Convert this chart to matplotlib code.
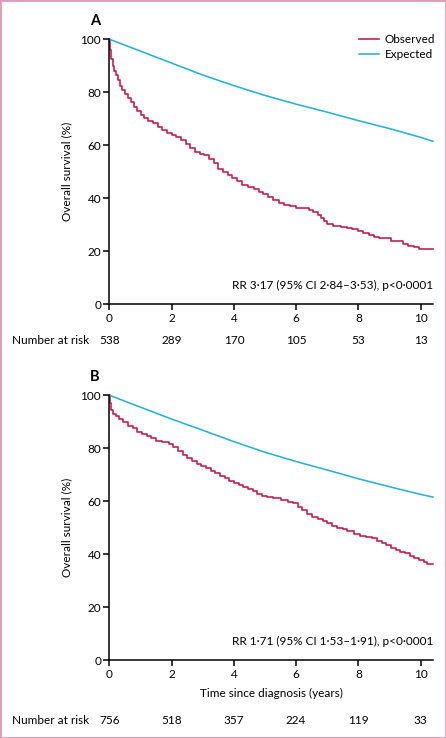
import matplotlib
matplotlib.use("Agg")
import matplotlib.pyplot as plt
from matplotlib.patches import Rectangle

plt.rcParams['font.family'] = ['Lato', 'DejaVu Sans']
plt.rcParams['font.size'] = 8.5

# Panel A - observed (Kaplan-Meier steps) and expected survival
obs_a_t = [0, 0.02, 0.04, 0.06, 0.1, 0.15, 0.2, 0.27, 0.33, 0.4, 0.5, 0.6, 0.7, 0.8, 0.9,
           1.0, 1.1, 1.25, 1.4, 1.55, 1.7, 1.85, 2.0, 2.15, 2.3, 2.45, 2.6, 2.75, 2.9,
           3.05, 3.2, 3.35, 3.5, 3.65, 3.8, 3.95, 4.1, 4.25, 4.45, 4.65, 4.8, 4.95, 5.1,
           5.25, 5.45, 5.6, 5.8, 6.0, 6.2, 6.4, 6.55, 6.7, 6.8, 6.9, 7.0, 7.2, 7.45, 7.65,
           7.8, 8.0, 8.15, 8.35, 8.5, 8.65, 9.05, 9.3, 9.45, 9.6, 9.8, 9.95, 10.4]
obs_a_s = [100, 96, 94, 92.5, 90, 88, 86.5, 84.5, 82.5, 81, 79.5, 78, 76.5, 74.5, 73,
           71.5, 70.2, 69.2, 68.3, 66.8, 65.8, 64.5, 63.8, 63, 62, 60.5, 58.8, 57.5, 56.8,
           56.3, 55, 53.2, 51, 49.8, 48.8, 47.8, 46.5, 45, 44.3, 43.5, 42.5, 41.5, 40.5,
           39.5, 38.2, 37.5, 37, 36.5, 36.2, 35.5, 34.8, 33.8, 32.5, 31.3, 30.3, 29.6, 29.3, 28.8,
           28.3, 27.8, 27, 26, 25.3, 25, 24, 23.7, 22.8, 22, 21.5, 20.7, 20.7]
exp_a_t = [0, 1, 2, 3, 4, 5, 6, 7, 8, 9, 10, 10.4]
exp_a_s = [100, 95.5, 91, 86.5, 82.5, 78.8, 75.5, 72.5, 69.3, 66.3, 63, 61.5]

# Panel B
obs_b_t = [0, 0.02, 0.05, 0.1, 0.2, 0.3, 0.45, 0.6, 0.75, 0.9, 1.05, 1.2, 1.35, 1.5, 1.7,
           1.9, 2.05, 2.2, 2.35, 2.5, 2.65, 2.8, 2.95, 3.1, 3.25, 3.4, 3.55, 3.7, 3.85, 4.0,
           4.15, 4.3, 4.45, 4.6, 4.75, 4.9, 5.05, 5.25, 5.5, 5.75, 5.9, 6.05, 6.2, 6.35, 6.5,
           6.7, 6.85, 7.0, 7.15, 7.3, 7.5, 7.65, 7.85, 8.05, 8.25, 8.45, 8.6, 8.75, 8.9, 9.05,
           9.2, 9.35, 9.5, 9.65, 9.8, 9.95, 10.1, 10.2, 10.4]
obs_b_s = [100, 97, 94.5, 93, 92, 91, 89.8, 88.5, 87.5, 86.3, 85.5, 84.8, 83.7, 82.9, 82.4,
           81.5, 80.5, 79, 77.6, 76.3, 75.2, 74.2, 73.4, 72.5, 71.5, 70.6, 69.7, 68.7, 67.8, 67,
           66, 65.3, 64.5, 63.8, 62.8, 62, 61.6, 61.2, 60.3, 59.8, 59.2, 58, 56.6, 55.3, 54.2,
           53.4, 52.7, 51.7, 50.7, 50, 49.5, 48.8, 47.8, 47, 46.4, 46, 45, 44.3, 43.5, 42.5,
           41.7, 41, 40.4, 39.5, 38.6, 37.8, 36.9, 36.2, 36.2]
exp_b_t = [0, 1, 2, 3, 4, 5, 6, 7, 8, 9, 10, 10.4]
exp_b_s = [100, 95.5, 91, 86.8, 82.5, 78.5, 75, 71.8, 68.5, 65.5, 62.6, 61.6]

ticks = [0, 2, 4, 6, 8, 10]
risk_a = [538, 289, 170, 105, 53, 13]
risk_b = [756, 518, 357, 224, 119, 33]
rr_a = "RR 3·17 (95% CI 2·84–3·53), p<0·0001"
rr_b = "RR 1·71 (95% CI 1·53–1·91), p<0·0001"

red = '#c4174c'
blue = '#25b3cf'

fig = plt.figure(figsize=(4.46, 7.38), dpi=100)
fig.patches.append(Rectangle((0, 0), 1, 1, transform=fig.transFigure, fill=False,
                             edgecolor='#de9cb8', lw=2.0))

ax_a = fig.add_axes([0.2455, 0.5877, 0.7253, 0.3591])
ax_b = fig.add_axes([0.2455, 0.1053, 0.7253, 0.3591])

panels = [(ax_a, obs_a_t, obs_a_s, exp_a_t, exp_a_s, rr_a, 'A'),
          (ax_b, obs_b_t, obs_b_s, exp_b_t, exp_b_s, rr_b, 'B')]

for ax, ot, os_, et, es, rr, letter in panels:
    ax.plot(ot, os_, drawstyle='steps-post', color=red, lw=1.15, label='Observed', clip_on=False)
    ax.plot(et, es, color=blue, lw=1.15, label='Expected', clip_on=False)
    ax.set_xlim(0, 10.4)
    ax.set_ylim(0, 100)
    ax.set_xticks(ticks)
    ax.set_yticks([0, 20, 40, 60, 80, 100])
    for s in ['top', 'right']:
        ax.spines[s].set_visible(False)
    for s in ['left', 'bottom']:
        ax.spines[s].set_linewidth(1.1)
    ax.tick_params(direction='out', length=4.5, width=1.1, labelsize=8.5, pad=1.5)
    ax.set_ylabel('Overall survival (%)', fontsize=8.5, labelpad=6)
    ax.text(1.0, 0.07, rr, transform=ax.transAxes, ha='right', va='center', fontsize=8.5)
    ax.text(-0.045, 1.07, letter, transform=ax.transAxes, ha='center', va='center',
            fontsize=10.5, fontweight='bold')

# number at risk rows
for ax, risk, ypix in [(ax_a, risk_a, 340), (ax_b, risk_b, 720)]:
    yf = 1 - ypix / 738
    for t, n in zip(ticks, risk):
        xd = ax.transData.transform((t, 0))[0]
        xf = fig.transFigure.inverted().transform((xd, 0))[0]
        fig.text(xf, yf, str(n), ha='center', va='center', fontsize=8.5)
    fig.text(12 / 446, yf, 'Number at risk', ha='left', va='center', fontsize=8.5)

ax_b.set_xlabel('Time since diagnosis (years)', fontsize=8.5, labelpad=6)

ax_a.legend(loc='upper right', bbox_to_anchor=(1.04, 1.06), frameon=False,
            handlelength=1.7, handletextpad=0.5, labelspacing=0.35, fontsize=8.5)

fig.savefig('out.png', dpi=100)
